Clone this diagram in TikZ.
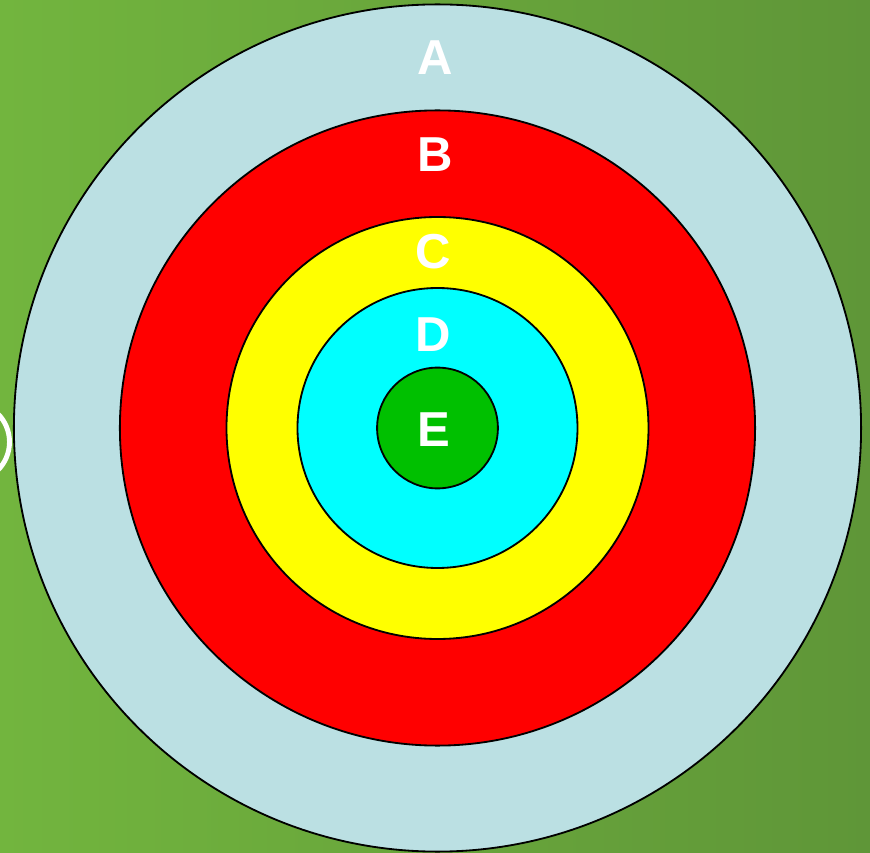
\documentclass[tikz,border=0pt]{standalone}
\usepackage{fontspec}
\setmainfont{Liberation Sans}
\usetikzlibrary{positioning}
\definecolor{leaf}{HTML}{72B53E}
\definecolor{leafdark}{HTML}{5F9638}
\definecolor{ringa}{HTML}{BBE0E3}
\definecolor{ringb}{HTML}{FF0000}
\definecolor{ringc}{HTML}{FFFF00}
\definecolor{ringd}{HTML}{00FFFF}
\definecolor{ringe}{HTML}{00C000}

\begin{document}
\begin{tikzpicture}[font=\bfseries\fontsize{34.9}{40}\selectfont, text=white,
  ring/.style={circle, draw=black, line width=1.3pt, inner sep=0pt, minimum size=#1},
  tag/.style={inner sep=0pt, text=white}]
  % background
  \useasboundingbox (-10.9375,-10.625) rectangle (10.8125,10.7);
  \shade[left color=leaf, right color=leafdark] (-10.9375,-10.625) rectangle (10.8125,10.7);
  \begin{scope}
    \clip (-10.9375,-10.625) rectangle (10.8125,10.7);
    \draw[white, line width=3.5pt] (-11.7,-0.35) circle (1.0);
  \end{scope}

  % target rings
  \node[ring=21.18cm, fill=ringa] (a) at (0,0) {};
  \node[ring=15.88cm, fill=ringb] (b) at (0,0) {};
  \node[ring=10.55cm, fill=ringc] (c) at (0,0) {};
  \node[ring=7.0cm, fill=ringd] (d) at (0,0) {};
  \node[ring=3.02cm, fill=ringe] (e) at (0,0) {};

  % labels
  \node[tag] (la) at (-0.06,9.25) {A};
  \node[tag] (lb) at (-0.06,6.83) {B};
  \node[tag] (lc) at (-0.1,4.4) {C};
  \node[tag] (ld) at (-0.1,2.33) {D};
  \node[tag] (le) at (-0.1,-0.05) {E};
\end{tikzpicture}
\end{document}
